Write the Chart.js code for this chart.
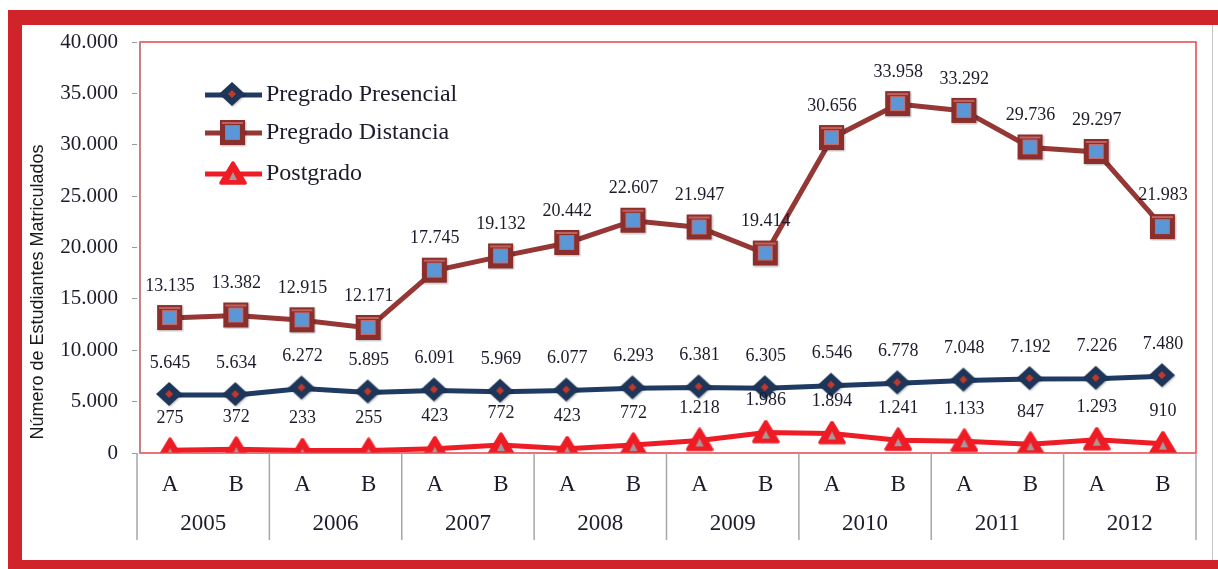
<!DOCTYPE html>
<html lang="es">
<head>
<meta charset="UTF-8">
<title>Estudiantes matriculados por semestre</title>
<script src="https://cdn.jsdelivr.net/npm/chart.js@4.4.1/dist/chart.umd.min.js"></script>
<style>
    html, body { margin: 0; padding: 0; background: #fff; }
    body { width: 1218px; height: 569px; position: relative; overflow: hidden; }
    .band { position: absolute; background: #d1232a; }
    .edge { position: absolute; left: 1212px; top: 25px; width: 1px; height: 535px; background: #c4c4c4; }
    .chart-box { position: absolute; left: 0; top: 0; width: 1218px; height: 569px; }
</style>
</head>
<body>

<!-- red frame round the figure -->
<div class="band" style="left:8px; top:10px; width:1210px; height:15px;"></div>
<div class="band" style="left:8px; top:10px; width:14px; height:559px;"></div>
<div class="band" style="left:8px; top:560px; width:1210px; height:9px;"></div>
<div class="edge"></div>

<div class="chart-box"><canvas id="matriculas"></canvas></div>

<script>
    // Data
    const years = ['2005', '2006', '2007', '2008', '2009', '2010', '2011', '2012'];
    const halves = ['A', 'B'];
    const presencial = [5645, 5634, 6272, 5895, 6091, 5969, 6077, 6293, 6381, 6305, 6546, 6778, 7048, 7192, 7226, 7480];
    const distancia = [13135, 13382, 12915, 12171, 17745, 19132, 20442, 22607, 21947, 19414, 30656, 33958, 33292, 29736, 29297, 21983];
    const postgrado = [275, 372, 233, 255, 423, 772, 423, 772, 1218, 1986, 1894, 1241, 1133, 847, 1293, 910];
    const seriesNames = ['Pregrado Presencial', 'Pregrado Distancia', 'Postgrado'];
    const yMax = 40000;
    const yStep = 5000;

    const labels = years.flatMap(() => halves);
    const SERIF = '"Liberation Serif", "Times New Roman", serif';
    const TEXT = '#1b1b2b';

    // 12.345 style thousands
    function fmt(n) {
        return String(n).replace(/\B(?=(\d{3})+(?!\d))/g, '.');
    }

    // Marker images
    function makeDiamond() {
        const c = document.createElement('canvas');
        c.width = 28; c.height = 28;
        const g = c.getContext('2d');
        g.shadowColor = 'rgba(0,0,0,0.25)';
        g.shadowBlur = 2;
        g.shadowOffsetX = 1;
        g.shadowOffsetY = 1;
        g.fillStyle = '#1c3559';
        g.beginPath();
        g.moveTo(13, 1); g.lineTo(26, 13); g.lineTo(13, 25); g.lineTo(0, 13);
        g.closePath(); g.fill();
        g.shadowColor = 'transparent';
        g.fillStyle = '#c0392b';
        g.beginPath();
        g.moveTo(13, 9); g.lineTo(17, 13); g.lineTo(13, 17); g.lineTo(9, 13);
        g.closePath(); g.fill();
        return c;
    }
    function makeSquare() {
        const c = document.createElement('canvas');
        c.width = 28; c.height = 28;
        const g = c.getContext('2d');
        g.shadowColor = 'rgba(0,0,0,0.3)';
        g.shadowBlur = 2;
        g.shadowOffsetX = 1;
        g.shadowOffsetY = 1;
        g.fillStyle = '#8a2f2c';
        g.fillRect(1, 1, 25, 25);
        g.shadowColor = 'transparent';
        g.fillStyle = '#c0625e';
        g.fillRect(3, 3, 21, 2);
        g.fillStyle = '#c46a6a';
        g.fillRect(6, 6, 15, 15);
        g.fillStyle = '#5b97d6';
        g.fillRect(7, 7, 13, 13);
        return c;
    }
    function makeTriangle() {
        const c = document.createElement('canvas');
        c.width = 28; c.height = 26;
        const g = c.getContext('2d');
        g.fillStyle = '#ee1c25';
        g.strokeStyle = '#ee1c25';
        g.lineWidth = 3.5;
        g.lineJoin = 'round';
        g.beginPath();
        g.moveTo(14, 2); g.lineTo(26, 22); g.lineTo(2, 22);
        g.closePath(); g.fill(); g.stroke();
        g.fillStyle = '#a89898';
        g.beginPath();
        g.moveTo(14, 11); g.lineTo(18, 19); g.lineTo(10, 19);
        g.closePath(); g.fill();
        return c;
    }

    const markers = [makeDiamond(), makeSquare(), makeTriangle()];
    const lineColors = ['#1f3b63', '#953735', '#ee1c25'];

    // Extra drawing: plot border, value labels, legend, year row, axis title
    const figurePlugin = {
        id: 'figure',
        afterDatasetsDraw(chart) {
            const c = chart.ctx;
            c.save();
            c.font = '18px ' + SERIF;
            c.fillStyle = TEXT;
            c.textAlign = 'center';
            c.textBaseline = 'middle';
            chart.data.datasets.forEach((ds, i) => {
                chart.getDatasetMeta(i).data.forEach((pt, j) => {
                    c.fillText(fmt(ds.data[j]), pt.x, pt.y - 32);
                });
            });
            c.restore();
        },
        afterDraw(chart) {
            const c = chart.ctx;
            const area = chart.chartArea;
            const x = chart.scales.x;
            c.save();

            // plot area border
            c.strokeStyle = '#e5454b';
            c.lineWidth = 1.5;
            c.strokeRect(area.left + 3, area.top, area.right - area.left - 3, area.bottom - area.top);
            c.strokeStyle = '#b98585';
            c.beginPath();
            c.moveTo(area.left + 3, area.top);
            c.lineTo(area.left + 3, area.bottom);
            c.stroke();

            // year separators and labels
            const step = x.getPixelForValue(1) - x.getPixelForValue(0);
            c.strokeStyle = '#a6a6a6';
            c.lineWidth = 1.5;
            for (let j = 0; j <= years.length; j++) {
                const bx = x.getPixelForValue(j * 2) - step / 2;
                c.beginPath();
                c.moveTo(bx, area.bottom);
                c.lineTo(bx, 540);
                c.stroke();
            }
            c.font = '23px ' + SERIF;
            c.fillStyle = TEXT;
            c.textAlign = 'center';
            c.textBaseline = 'middle';
            years.forEach((yr, j) => {
                const mx = (x.getPixelForValue(j * 2) + x.getPixelForValue(j * 2 + 1)) / 2;
                c.fillText(yr, mx, 524);
            });

            // legend
            const rows = [95, 133, 174];
            c.textAlign = 'left';
            c.font = '24px ' + SERIF;
            seriesNames.forEach((name, i) => {
                c.strokeStyle = lineColors[i];
                c.lineWidth = 5;
                c.beginPath();
                c.moveTo(205, rows[i]);
                c.lineTo(262, rows[i]);
                c.stroke();
                const m = markers[i];
                c.drawImage(m, 233 - m.width / 2, rows[i] - m.height / 2);
                c.fillStyle = TEXT;
                c.fillText(name, 266, rows[i]);
            });

            // y axis title
            c.translate(38, 292);
            c.rotate(-Math.PI / 2);
            c.font = '18px "Liberation Sans", Arial, sans-serif';
            c.fillStyle = '#1a1a1a';
            c.textAlign = 'center';
            c.fillText('Número de Estudiantes Matriculados', 0, 0, 310);
            c.restore();
        }
    };

    const ctx = document.getElementById('matriculas').getContext('2d');
    const matriculasChart = new Chart(ctx, {
        type: 'line',
        data: {
            labels: labels,
            datasets: [presencial, distancia, postgrado].map((d, i) => ({
                label: seriesNames[i],
                data: d,
                borderColor: lineColors[i],
                backgroundColor: lineColors[i],
                borderWidth: 5,
                pointStyle: markers[i],
                pointRadius: 13,
                tension: 0
            }))
        },
        options: {
            responsive: true,
            maintainAspectRatio: false,
            animation: false,
            layout: { padding: { left: 0, top: 42, right: 22, bottom: 29 } },
            plugins: {
                legend: { display: false },
                tooltip: { enabled: false }
            },
            scales: {
                x: {
                    offset: true,
                    grid: { display: false },
                    border: { display: false },
                    ticks: { font: { family: SERIF, size: 23 }, color: TEXT, padding: 10, maxRotation: 0 },
                    afterFit: s => { s.height = 87; }
                },
                y: {
                    min: 0,
                    max: yMax,
                    border: { display: false },
                    grid: { drawOnChartArea: false, tickLength: 5, color: '#9a9a9a' },
                    ticks: { stepSize: yStep, callback: v => fmt(v), font: { family: SERIF, size: 21 }, color: TEXT, padding: 14 },
                    afterFit: s => { s.width = 137; }
                }
            }
        },
        plugins: [figurePlugin]
    });
</script>
</body>
</html>
